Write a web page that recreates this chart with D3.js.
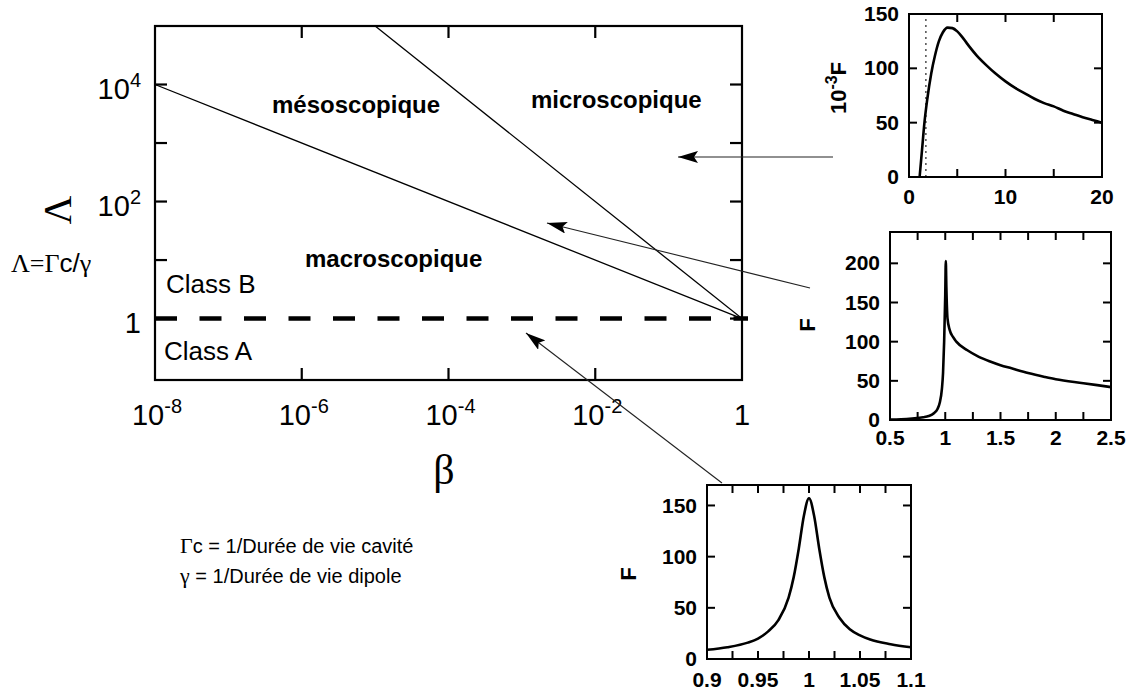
<!DOCTYPE html>
<html><head><meta charset="utf-8">
<script src="https://cdn.jsdelivr.net/npm/d3@7"></script>
<style>body{margin:0;background:#fff}</style>
</head><body>
<svg id="c" width="1130" height="692" xmlns="http://www.w3.org/2000/svg"></svg>
<script>
// ---------- main diagram data ----------
const xTicksMain = [1e-8, 1e-6, 1e-4, 1e-2, 1];
const xTickExp = ["-8", "-6", "-4", "-2", null];
const yTicksMain = [1, 1e2, 1e4];
const yTickExp = [null, "2", "4"];
const yMarksMain = [1, 10, 1e2, 1e3, 1e4];
const xMarksMain = [1e-6, 1e-4, 1e-2];
const lineMacroMeso = [[1e-8, 1e4], [1, 1]];
const lineMesoMicro = [[1e-5, 1e5], [1, 1]];
const lineClassAB = [[1e-8, 1], [1, 1]];
const regionNames = ["mésoscopique", "microscopique", "macroscopique"];
const regionAt = [[-6.405, 3.51], [-2.876, 3.60], [-5.956, 0.882]]; // log10 beta, log10 Lambda
const classNames = ["Class B", "Class A"];
const classAt = [[-7.85, 0.437], [-7.877, -0.708]];
// arrows: tail -> tip in (log10 beta, log10 Lambda)
const arrowTails = [[1.24, 2.762], [0.927, 0.523], [-0.273, -2.81]];
const arrowTips = [[-0.872, 2.762], [-2.658, 1.634], [-2.944, -0.246]];

// ---------- inset data ----------
const ins1X = [1.1, 1.35, 1.6, 1.9, 2.3, 2.7, 3.1, 3.5, 4.0, 4.5, 5, 5.5, 6, 7, 8, 9, 10, 11, 12, 13, 14, 15, 16, 17, 18, 19, 20];
const ins1Y = [0, 25, 50, 72, 95, 112, 125, 133, 137.5, 137, 134, 129, 123, 112, 103, 95, 88, 82, 77, 72, 68, 65, 61, 58, 55, 52.5, 50];
const ins1Dotted = 1.75;
const ins1XLabels = [0, 10, 20];
const ins1XMarks = [5, 10, 15];
const ins1YLabels = [0, 50, 100, 150];

const ins2X = [0.5, 0.6, 0.7, 0.8, 0.85, 0.9, 0.93, 0.95, 0.97, 0.98, 0.99, 1.0, 1.005, 1.01, 1.02, 1.04, 1.07, 1.1, 1.2, 1.3, 1.4, 1.5, 1.6, 1.75, 1.9, 2.0, 2.25, 2.5];
const ins2Y = [0.5, 1, 2, 3.5, 5, 9, 14, 22, 40, 60, 100, 160, 203, 170, 130, 115, 106, 100, 89, 81, 75, 70, 66, 60, 55, 52, 47, 42];
const ins2XLabels = [0.5, 1, 1.5, 2, 2.5];
const ins2XMarks = [0.75, 1, 1.25, 1.5, 1.75, 2, 2.25];
const ins2YLabels = [0, 50, 100, 150, 200];

const ins3X = [0.9, 0.92, 0.94, 0.95, 0.96, 0.97, 0.98, 0.985, 0.99, 0.995, 1.0, 1.005, 1.01, 1.015, 1.02, 1.03, 1.04, 1.05, 1.06, 1.08, 1.1];
const ins3Y = [9, 11.5, 16, 20, 27, 38, 60, 80, 108, 140, 157, 140, 108, 80, 60, 40, 29, 23, 19, 14.5, 11.5];
const ins3XLabels = [0.9, 0.95, 1, 1.05, 1.1];
const ins3XMarks = [0.925, 0.95, 0.975, 1, 1.025, 1.05, 1.075];
const ins3YLabels = [0, 50, 100, 150];

const svg = d3.select("#c");
const SANS = "'Liberation Sans', Arial, Helvetica, sans-serif";
const SERIF = "'Liberation Serif', 'Times New Roman', serif";

// ---------- main plot ----------
const L = 155, R = 742, T = 26, B = 380;
const x = d3.scaleLog().domain([1e-8, 1]).range([L, R]);
const y = d3.scaleLog().domain([Math.pow(10, -1.05), 1e5]).range([B, T]);
const px = p => x(Math.pow(10, p[0]));
const py = p => y(Math.pow(10, p[1]));

svg.append("defs").append("marker")
  .attr("id", "ah").attr("viewBox", "0 -6 20 12")
  .attr("refX", 20).attr("refY", 0)
  .attr("markerWidth", 20).attr("markerHeight", 12)
  .attr("markerUnits", "userSpaceOnUse").attr("orient", "auto")
  .append("path").attr("d", "M0,-6 L20,0 L0,6 L4,0 Z").attr("fill", "#000");

const line = d3.line().x(d => x(d[0])).y(d => y(d[1]));

// boundary lines
svg.append("path").datum(lineMacroMeso).attr("d", line)
  .attr("fill", "none").attr("stroke", "#000").attr("stroke-width", 1.3);
const clip = svg.append("clipPath").attr("id", "mclip");
clip.append("rect").attr("x", L).attr("y", T).attr("width", R - L).attr("height", B - T);
svg.append("path").datum(lineMesoMicro).attr("d", line).attr("clip-path", "url(#mclip)")
  .attr("fill", "none").attr("stroke", "#000").attr("stroke-width", 1.3);
svg.append("line")
  .attr("x1", x(lineClassAB[0][0])).attr("y1", y(lineClassAB[0][1]))
  .attr("x2", x(lineClassAB[1][0]) + 6).attr("y2", y(lineClassAB[1][1]))
  .attr("stroke", "#000").attr("stroke-width", 4.5).attr("stroke-dasharray", "22,22.5");

// frame
svg.append("rect").attr("x", L).attr("y", T).attr("width", R - L).attr("height", B - T)
  .attr("fill", "none").attr("stroke", "#000").attr("stroke-width", 2.2);

// tick marks
const tl = 12;
xMarksMain.forEach(v => {
  svg.append("line").attr("x1", x(v)).attr("x2", x(v)).attr("y1", B).attr("y2", B - tl).attr("stroke", "#000").attr("stroke-width", 2.2);
  svg.append("line").attr("x1", x(v)).attr("x2", x(v)).attr("y1", T).attr("y2", T + tl).attr("stroke", "#000").attr("stroke-width", 2.2);
});
yMarksMain.forEach(v => {
  svg.append("line").attr("x1", L).attr("x2", L + tl).attr("y1", y(v)).attr("y2", y(v)).attr("stroke", "#000").attr("stroke-width", 2.2);
  svg.append("line").attr("x1", R).attr("x2", R - tl).attr("y1", y(v)).attr("y2", y(v)).attr("stroke", "#000").attr("stroke-width", 2.2);
});

// tick labels
function powLabel(g, base, exp, supSize, supDy) {
  g.append("tspan").text(base);
  if (exp !== null) g.append("tspan").attr("font-size", supSize).attr("dy", supDy).text(exp);
}
xTicksMain.forEach((v, i) => {
  const t = svg.append("text").attr("x", x(v) + (xTickExp[i] ? 2 : 0)).attr("y", 425)
    .attr("text-anchor", "middle").attr("font-family", SANS).attr("font-size", 29);
  powLabel(t, xTickExp[i] === null ? "1" : "10", xTickExp[i], 20, -12);
});
yTicksMain.forEach((v, i) => {
  const t = svg.append("text").attr("x", 141).attr("y", y(v) + 14)
    .attr("text-anchor", "end").attr("font-family", SANS).attr("font-size", 29);
  powLabel(t, yTickExp[i] === null ? "1" : "10", yTickExp[i], 20, -12);
});

// axis titles
svg.append("text").attr("x", 444).attr("y", 484).attr("text-anchor", "middle")
  .attr("font-family", SERIF).attr("font-size", 42).text("β");
svg.append("text").attr("transform", "translate(71,210) rotate(-90)").attr("text-anchor", "middle")
  .attr("font-family", SERIF).attr("font-size", 40).text("Λ");
{
  const t = svg.append("text").attr("x", 11).attr("y", 272).attr("font-size", 26);
  t.append("tspan").attr("font-family", SERIF).text("Λ=Γ");
  t.append("tspan").attr("font-family", SANS).text("c/");
  t.append("tspan").attr("font-family", SERIF).text("γ");
}

// region labels
regionNames.forEach((n, i) => {
  svg.append("text").attr("x", px(regionAt[i])).attr("y", py(regionAt[i]))
    .attr("font-family", SANS).attr("font-weight", "bold").attr("font-size", 24).text(n);
});
classNames.forEach((n, i) => {
  svg.append("text").attr("x", px(classAt[i])).attr("y", py(classAt[i]))
    .attr("font-family", SANS).attr("font-size", 26).text(n);
});

// definitions text
{
  const t1 = svg.append("text").attr("x", 180).attr("y", 553).attr("font-size", 20);
  t1.append("tspan").attr("font-family", SERIF).attr("font-size", 22).text("Γ");
  t1.append("tspan").attr("font-family", SANS).text("c =  1/Durée de vie cavité");
  const t2 = svg.append("text").attr("x", 180).attr("y", 583).attr("font-size", 20);
  t2.append("tspan").attr("font-family", SERIF).attr("font-size", 22).text("γ");
  t2.append("tspan").attr("font-family", SANS).text(" = 1/Durée de vie dipole");
}

// arrows
arrowTails.forEach((a, i) => {
  svg.append("line").attr("x1", px(a)).attr("y1", py(a))
    .attr("x2", px(arrowTips[i])).attr("y2", py(arrowTips[i]))
    .attr("stroke", "#222").attr("stroke-width", 1.1).attr("marker-end", "url(#ah)");
});

// ---------- insets ----------
function inset(cfg) {
  const g = svg.append("g");
  const sx = d3.scaleLinear().domain(cfg.xd).range([cfg.l, cfg.r]);
  const sy = d3.scaleLinear().domain(cfg.yd).range([cfg.b, cfg.t]);
  const m = 8;
  cfg.xm.forEach(v => {
    g.append("line").attr("x1", sx(v)).attr("x2", sx(v)).attr("y1", cfg.b).attr("y2", cfg.b - m).attr("stroke", "#000").attr("stroke-width", 2);
    g.append("line").attr("x1", sx(v)).attr("x2", sx(v)).attr("y1", cfg.t).attr("y2", cfg.t + m).attr("stroke", "#000").attr("stroke-width", 2);
  });
  cfg.yl.filter(v => v > cfg.yd[0] && sy(v) > cfg.t + 3).forEach(v => {
    g.append("line").attr("x1", cfg.l).attr("x2", cfg.l + m).attr("y1", sy(v)).attr("y2", sy(v)).attr("stroke", "#000").attr("stroke-width", 2);
    g.append("line").attr("x1", cfg.r).attr("x2", cfg.r - m).attr("y1", sy(v)).attr("y2", sy(v)).attr("stroke", "#000").attr("stroke-width", 2);
  });
  if (cfg.dotted !== undefined) {
    g.append("line").attr("x1", sx(cfg.dotted)).attr("x2", sx(cfg.dotted)).attr("y1", cfg.b).attr("y2", cfg.t)
      .attr("stroke", "#333").attr("stroke-width", 1.3).attr("stroke-dasharray", "2,4");
  }
  const pts = cfg.xs.map((v, i) => [v, cfg.ys[i]]);
  g.append("path").datum(pts)
    .attr("d", d3.line().x(d => sx(d[0])).y(d => sy(d[1])).curve(d3.curveMonotoneX))
    .attr("fill", "none").attr("stroke", "#000").attr("stroke-width", 2.6);
  g.append("rect").attr("x", cfg.l).attr("y", cfg.t).attr("width", cfg.r - cfg.l).attr("height", cfg.b - cfg.t)
    .attr("fill", "none").attr("stroke", "#000").attr("stroke-width", 2);
  cfg.xl.forEach(v => {
    g.append("text").attr("x", sx(v)).attr("y", cfg.b + cfg.xo).attr("text-anchor", "middle")
      .attr("font-family", SANS).attr("font-weight", "bold").attr("font-size", 21).text(String(v));
  });
  cfg.yl.forEach(v => {
    g.append("text").attr("x", cfg.l - 10).attr("y", sy(v)).attr("dy", "0.34em").attr("text-anchor", "end")
      .attr("font-family", SANS).attr("font-weight", "bold").attr("font-size", 21).text(String(v));
  });
  const t = g.append("text").attr("transform", `translate(${cfg.lab[0]},${cfg.lab[1]}) rotate(-90)`)
    .attr("text-anchor", "middle").attr("font-family", SANS).attr("font-weight", "bold").attr("font-size", 22);
  if (cfg.labSup) {
    t.append("tspan").text("10");
    t.append("tspan").attr("font-size", 16).attr("dy", -9).text(cfg.labSup);
    t.append("tspan").attr("dy", 9).text("F");
  } else t.text("F");
}

inset({ l: 909, r: 1102, t: 14, b: 177, xd: [0, 20], yd: [0, 150], xs: ins1X, ys: ins1Y,
  xl: ins1XLabels, xm: ins1XMarks, yl: ins1YLabels, xo: 27, dotted: ins1Dotted, lab: [846, 88], labSup: "-3" });
inset({ l: 890, r: 1111, t: 232, b: 420, xd: [0.5, 2.5], yd: [0, 240], xs: ins2X, ys: ins2Y,
  xl: ins2XLabels, xm: ins2XMarks, yl: ins2YLabels, xo: 25, lab: [815, 325] });
inset({ l: 707, r: 911, t: 485, b: 659, xd: [0.9, 1.1], yd: [0, 170], xs: ins3X, ys: ins3Y,
  xl: ins3XLabels, xm: ins3XMarks, yl: ins3YLabels, xo: 28, lab: [636, 574] });
</script>
</body></html>
